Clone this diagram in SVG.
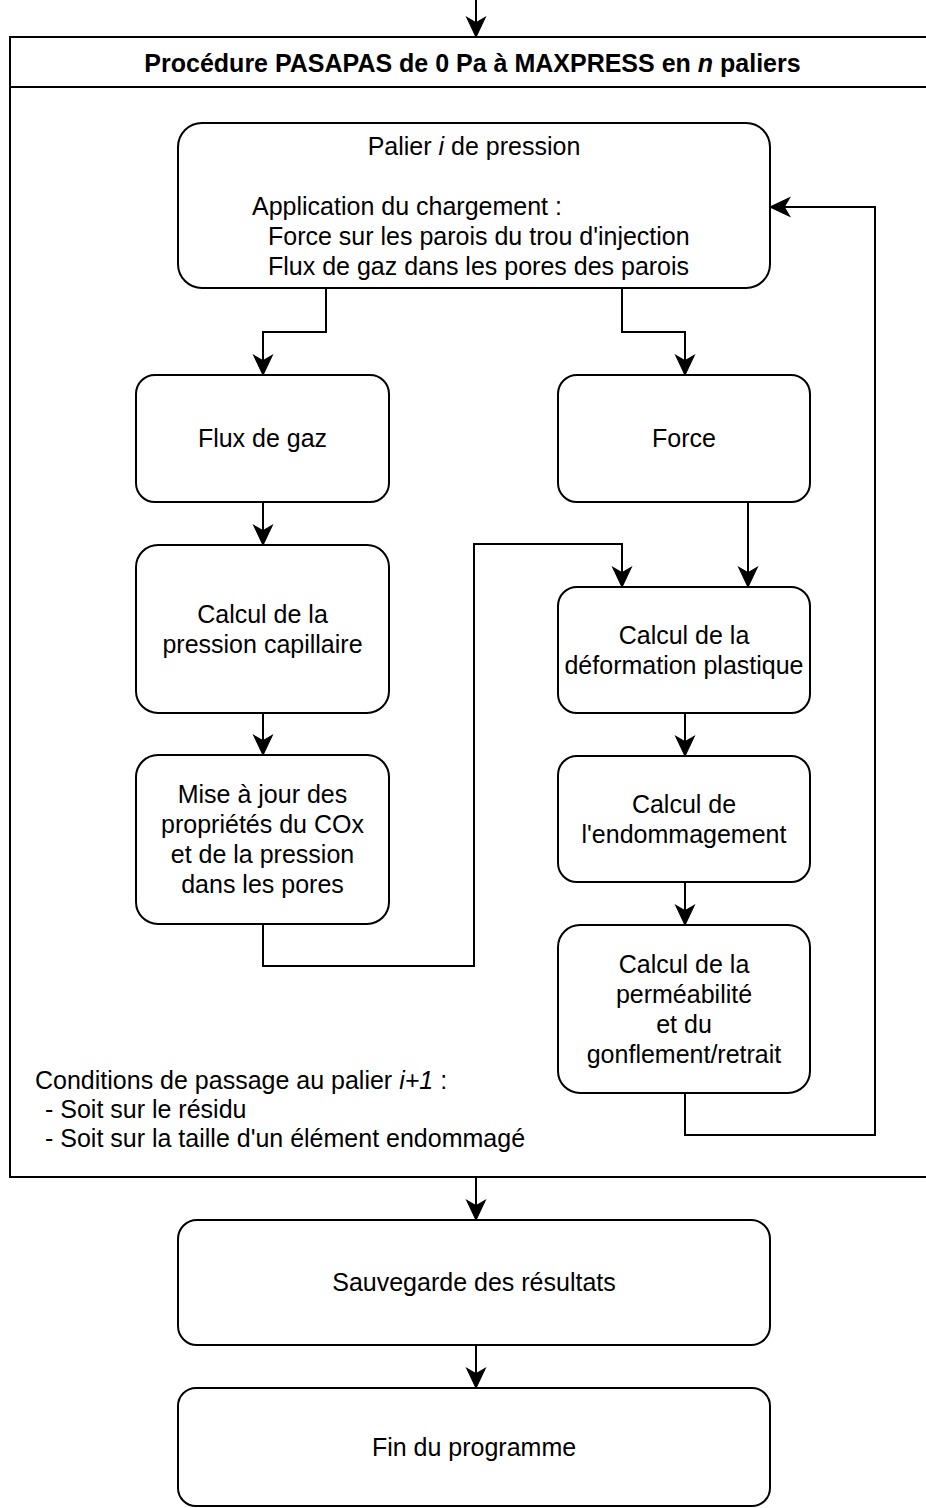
<svg xmlns="http://www.w3.org/2000/svg" width="926" height="1508" viewBox="0 0 926 1508">
<style>
.box{fill:#fff;stroke:#000;stroke-width:2}
.t{font-family:"Liberation Sans",Arial,sans-serif;font-size:25px;fill:#000;text-anchor:middle}
.l{text-anchor:start}
.b{font-weight:bold}
.c{fill:none;stroke:#000;stroke-width:2}
</style>
<defs>
<marker id="arr" markerUnits="userSpaceOnUse" markerWidth="24" markerHeight="24" viewBox="-20 -10 22 20" refX="0" refY="0" orient="auto">
<path d="M0,0 L-18,-8.5 L-13,0 L-18,8.5 Z" fill="#000" stroke="#000" stroke-width="1"/>
</marker>
</defs>
<rect width="926" height="1508" fill="#fff"/>
<g id="container">
<rect class="box" x="10" y="37" width="940" height="1140"/>
<line class="c" x1="10" y1="87" x2="950" y2="87"/>
<text class="t b" x="472.5" y="72">Procédure PASAPAS de 0 Pa à MAXPRESS en <tspan font-style="italic">n</tspan> paliers</text>
</g>
<g id="palier">
<rect class="box" x="178" y="123" width="592" height="165" rx="24"/>
<text class="t" x="474" y="155">Palier <tspan font-style="italic">i</tspan> de pression</text>
<text class="t l" x="252" y="215">Application du chargement :</text>
<text class="t l" x="268" y="245">Force sur les parois du trou d'injection</text>
<text class="t l" x="268" y="275">Flux de gaz dans les pores des parois</text>
</g>
<g id="flux">
<rect class="box" x="136" y="375" width="253" height="127" rx="19"/>
<text class="t" x="262.5" y="447">Flux de gaz</text>
</g>
<g id="force">
<rect class="box" x="558" y="375" width="252" height="127" rx="19"/>
<text class="t" x="684" y="447">Force</text>
</g>
<g id="capillaire">
<rect class="box" x="136" y="545" width="253" height="168" rx="22"/>
<text class="t" x="262.5" y="623">Calcul de la</text>
<text class="t" x="262.5" y="653">pression capillaire</text>
</g>
<g id="miseajour">
<rect class="box" x="136" y="755" width="253" height="169" rx="22"/>
<text class="t" x="262.5" y="803">Mise à jour des</text>
<text class="t" x="262.5" y="833">propriétés du COx</text>
<text class="t" x="262.5" y="863">et de la pression</text>
<text class="t" x="262.5" y="893">dans les pores</text>
</g>
<g id="deformation">
<rect class="box" x="558" y="587" width="252" height="126" rx="19"/>
<text class="t" x="684" y="644">Calcul de la</text>
<text class="t" x="684" y="674">déformation plastique</text>
</g>
<g id="endommagement">
<rect class="box" x="558" y="756" width="252" height="126" rx="19"/>
<text class="t" x="684" y="813">Calcul de</text>
<text class="t" x="684" y="843">l'endommagement</text>
</g>
<g id="permeabilite">
<rect class="box" x="558" y="925" width="252" height="168" rx="22"/>
<text class="t" x="684" y="973">Calcul de la</text>
<text class="t" x="684" y="1003">perméabilité</text>
<text class="t" x="684" y="1033">et du</text>
<text class="t" x="684" y="1063">gonflement/retrait</text>
</g>
<g id="conditions">
<text class="t l" x="35" y="1089">Conditions de passage au palier <tspan font-style="italic">i+1</tspan> :</text>
<text class="t l" x="45" y="1118">- Soit sur le résidu</text>
<text class="t l" x="45" y="1147">- Soit sur la taille d'un élément endommagé</text>
</g>
<g id="sauvegarde">
<rect class="box" x="178" y="1220" width="592" height="125" rx="19"/>
<text class="t" x="474" y="1291">Sauvegarde des résultats</text>
</g>
<g id="fin">
<rect class="box" x="178" y="1388" width="592" height="118" rx="18"/>
<text class="t" x="474" y="1456">Fin du programme</text>
</g>
<g id="connectors">
<path class="c" d="M476,0 V37" marker-end="url(#arr)"/>
<path class="c" d="M326,288 V332 H263 V375" marker-end="url(#arr)"/>
<path class="c" d="M622,288 V332 H685 V375" marker-end="url(#arr)"/>
<path class="c" d="M263,502 V545" marker-end="url(#arr)"/>
<path class="c" d="M263,713 V755" marker-end="url(#arr)"/>
<path class="c" d="M263,924 V966 H474 V544 H622 V587" marker-end="url(#arr)"/>
<path class="c" d="M748,502 V587" marker-end="url(#arr)"/>
<path class="c" d="M685,713 V756" marker-end="url(#arr)"/>
<path class="c" d="M685,882 V925" marker-end="url(#arr)"/>
<path class="c" d="M685,1093 V1135 H875 V207 H770" marker-end="url(#arr)"/>
<path class="c" d="M476,1177 V1220" marker-end="url(#arr)"/>
<path class="c" d="M476,1345 V1388" marker-end="url(#arr)"/>
</g>
</svg>
